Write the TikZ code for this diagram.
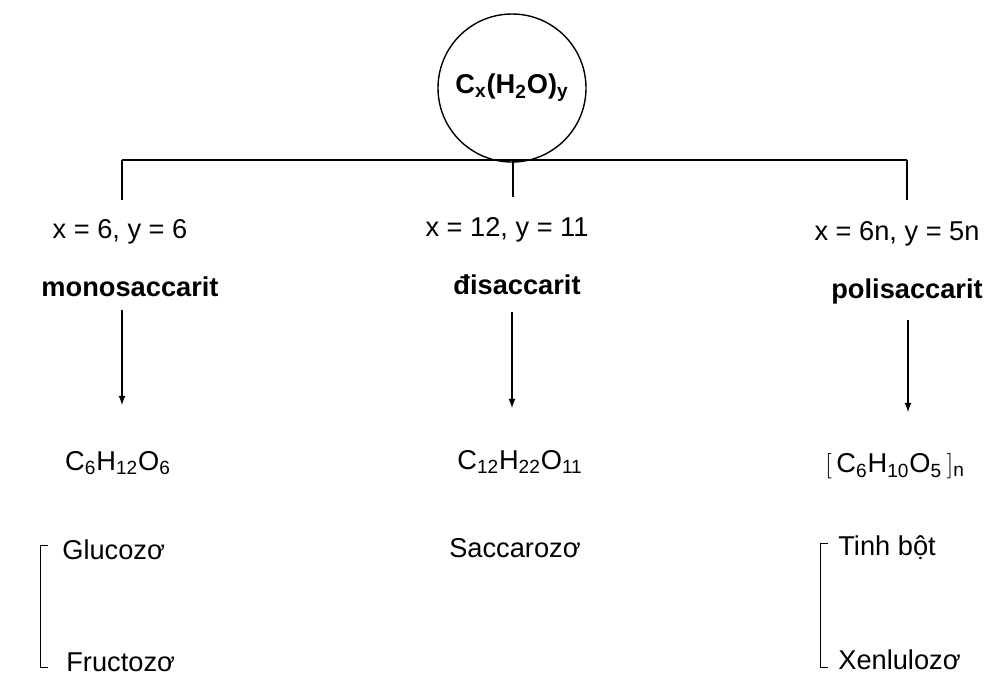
\documentclass[tikz,border=0pt]{standalone}
\usepackage{fontspec}
\setmainfont{Liberation Sans}
\usetikzlibrary{positioning}
\newcommand{\sbs}[1]{\textsubscript{#1}}
\begin{document}
\begin{tikzpicture}[x=0.02cm,y=-0.02cm,
  txt/.style={font=\fontsize{15.5}{18}\selectfont, inner sep=0pt},
  kind/.style={txt, font=\fontsize{15.5}{18}\selectfont\bfseries},
  arr/.style={thick, -latex}]
\useasboundingbox (0,0) rectangle (993,677);

\node[draw, thick, circle, minimum size=148*0.02cm, kind] (top) at (512,88) {C\sbs{x}(H\sbs{2}O)\sbs{y}};

\coordinate (bl) at (122,160);
\coordinate (bm) at (513,160);
\coordinate (br) at (907,160);
\coordinate (dl) at (122,200);
\coordinate (dm) at (513,197);
\coordinate (dr) at (907,200);

\draw[thick] (bl) -- (br);
\draw[thick] (top) -- (bm);
\draw[thick] (bl) -- (dl);
\draw[thick] (bm) -- (dm);
\draw[thick] (br) -- (dr);

\node[txt] (xl) at (120,232) {x = 6, y = 6};
\node[txt] (xm) at (507,230) {x = 12, y = 11};
\node[txt] (xr) at (897,234) {x = 6n, y = 5n};

\node[kind] (mono) at (130,287) {monosaccarit};
\node[kind] (di) at (517,285) {đisaccarit};
\node[kind] (poli) at (907,291) {polisaccarit};

\node[txt] (fl) at (118,463) {C\sbs{6}H\sbs{12}O\sbs{6}};
\node[txt] (fm) at (520,462) {C\sbs{12}H\sbs{22}O\sbs{11}};
\node[txt] (fr) at (895,466) {$\Bigl[$\,C\sbs{6}H\sbs{10}O\sbs{5}\,$\Bigr]$\sbs{n}};

\draw[arr] (122,310) -- (122,405);
\draw[arr] (512,312) -- (512,408);
\draw[arr] (908,320) -- (908,412);

\node[txt, anchor=west] (glu) at (62,550) {Glucozơ};
\node[txt, anchor=west] (fru) at (66,662) {Fructozơ};
\node[txt] (sac) at (515,548) {Saccarozơ};
\node[txt, anchor=west] (tb) at (838,548) {Tinh bột};
\node[txt, anchor=west] (xen) at (838,660) {Xenlulozơ};

\draw (48,545) -- (40,545) -- (40,667) -- (48,667);
\draw (828,543) -- (820,543) -- (820,667) -- (828,667);
\end{tikzpicture}
\end{document}
